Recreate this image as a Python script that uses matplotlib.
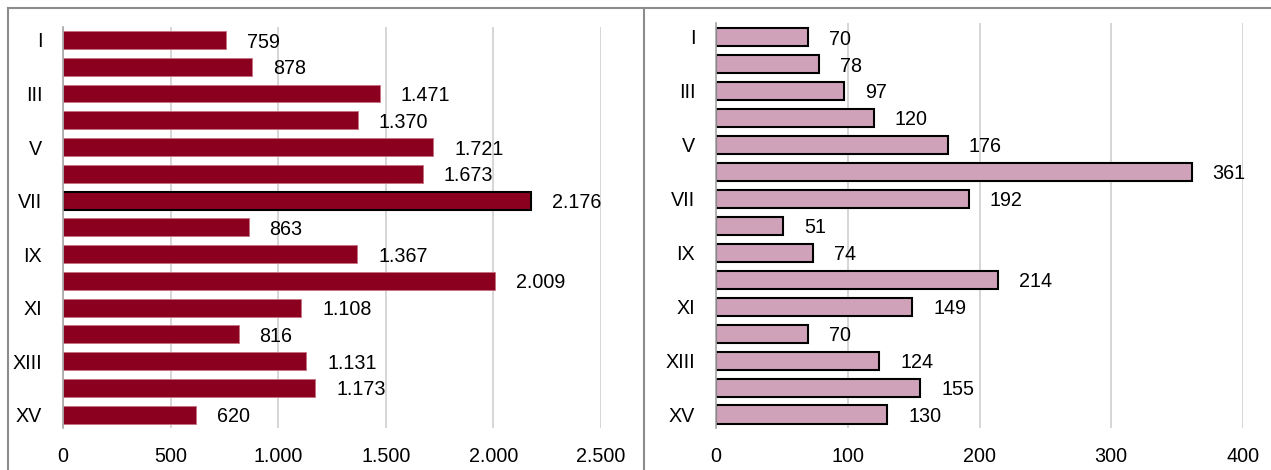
import matplotlib.pyplot as plt
from matplotlib.lines import Line2D

# categories (roman numerals), only odd ones are shown on the axis
categories = ['I', 'II', 'III', 'IV', 'V', 'VI', 'VII', 'VIII', 'IX', 'X',
              'XI', 'XII', 'XIII', 'XIV', 'XV']
tick_labels = ['I', '', 'III', '', 'V', '', 'VII', '', 'IX', '', 'XI', '', 'XIII', '', 'XV']

left_values = [759, 878, 1471, 1370, 1721, 1673, 2176, 863, 1367, 2009, 1108, 816, 1131, 1173, 620]
right_values = [70, 78, 97, 120, 176, 361, 192, 51, 74, 214, 149, 70, 124, 155, 130]

left_ticks = [0, 500, 1000, 1500, 2000, 2500]
right_ticks = [0, 100, 200, 300, 400]

plt.rcParams['font.family'] = ['Liberation Sans', 'DejaVu Sans']
W, H = 1271, 470
fig = plt.figure(figsize=(W / 100, H / 100), dpi=100)


# format numbers with '.' as thousands separator
def fmt(v):
    return '{:,}'.format(int(v)).replace(',', '.')


def draw_panel(ax, values, ticks, face, edges, widths):
    ypos = list(range(len(values)))
    ax.barh(ypos, values, height=0.67, color=face, edgecolor=edges, linewidth=widths, zorder=3)
    for y, v in zip(ypos, values):
        ax.annotate(fmt(v), xy=(v, y), xytext=(15, -1.5), textcoords='offset points',
                    ha='left', va='center', fontsize=14.2, color='black')
    ax.set_ylim(len(values) - 0.5, -0.5)
    ax.set_xlim(ticks[0], ticks[-1])
    ax.set_yticks(ypos)
    ax.set_yticklabels(tick_labels)
    ax.set_xticks(ticks)
    ax.set_xticklabels([fmt(t) for t in ticks])
    ax.tick_params(axis='both', length=0, labelsize=14.2)
    ax.tick_params(axis='y', pad=15)
    ax.tick_params(axis='x', pad=14)
    ax.grid(axis='x', color='#D0D0D0', linewidth=1.2, zorder=0)
    for s in ['top', 'right', 'bottom']:
        ax.spines[s].set_visible(False)
    ax.spines['left'].set_color('#A6A6A6')
    ax.spines['left'].set_linewidth(1.2)
    ax.spines['left'].set_zorder(4)


# left panel: dark red bars, VII highlighted with a black edge
ax_left = fig.add_axes([63 / W, 1 - 428 / H, (601 - 63) / W, (428 - 26.6) / H])
left_edges = ['black' if c == 'VII' else '#C87080' for c in categories]
left_widths = [1.5 if c == 'VII' else 0.6 for c in categories]
draw_panel(ax_left, left_values, left_ticks, '#8B001E', left_edges, left_widths)

# right panel: pink bars with black edges
ax_right = fig.add_axes([716 / W, 1 - 428 / H, (1243 - 716) / W, (428 - 23.5) / H])
draw_panel(ax_right, right_values, right_ticks, '#D0A2BA', 'black', 1.5)

# panel frames
frame = dict(color='#8C8C8C', linewidth=1.5, transform=fig.transFigure)
fig.add_artist(Line2D([7.5 / W, 1], [1 - 7.5 / H, 1 - 7.5 / H], **frame))
fig.add_artist(Line2D([7.5 / W, 7.5 / W], [0, 1 - 7.5 / H], **frame))
fig.add_artist(Line2D([644 / W, 644 / W], [0, 1 - 7.5 / H], **frame))

fig.savefig('out.png', dpi=100)
